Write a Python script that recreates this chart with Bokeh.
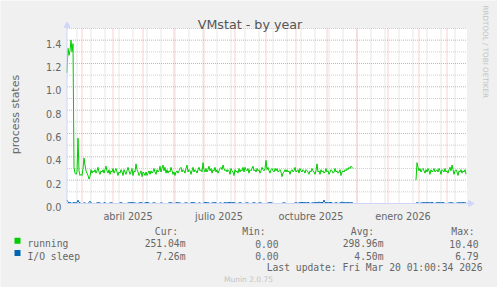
import numpy as np
import pandas as pd
from bokeh.plotting import figure
from bokeh.models import Range1d, ColumnDataSource
from bokeh.core.properties import value
from bokeh.embed import file_html
from bokeh.resources import INLINE

# ---------------- data ----------------
range_start = "2025-02-14"
range_end = "2026-03-21"

seg1_start = "2025-02-14"
seg2_start = "2026-01-29"

running_seg1 = [
    1.12, 1.33, 1.27, 1.31, 1.40, 1.30, 1.37, 0.31, 0.26, 0.25,
    0.27, 0.56, 0.28, 0.24, 0.25, 0.24, 0.30, 0.39, 0.33, 0.28,
    0.26, 0.24, 0.21, 0.23, 0.29, 0.26, 0.28, 0.27, 0.29, 0.26,
    0.28, 0.31, 0.27, 0.25, 0.28, 0.27, 0.29, 0.26, 0.29, 0.32,
    0.28, 0.26, 0.29, 0.25, 0.28, 0.27, 0.30, 0.26, 0.28, 0.30,
    0.27, 0.24, 0.27, 0.26, 0.29, 0.27, 0.24, 0.29, 0.27, 0.25,
    0.28, 0.31, 0.28, 0.25, 0.27, 0.30, 0.24, 0.28, 0.27, 0.34,
    0.29, 0.27, 0.24, 0.26, 0.28, 0.23, 0.27, 0.26, 0.24, 0.27,
    0.24, 0.26, 0.28, 0.25, 0.28, 0.26, 0.27, 0.30, 0.27, 0.25,
    0.29, 0.27, 0.28, 0.32, 0.27, 0.30, 0.33, 0.28, 0.31, 0.26,
    0.29, 0.26, 0.28, 0.27, 0.31, 0.28, 0.25, 0.27, 0.24, 0.27,
    0.28, 0.26, 0.28, 0.30, 0.31, 0.27, 0.29, 0.28, 0.26, 0.30,
    0.33, 0.27, 0.29, 0.28, 0.25, 0.28, 0.31, 0.27, 0.29, 0.28,
    0.26, 0.29, 0.31, 0.28, 0.29, 0.27, 0.35, 0.29, 0.27, 0.30,
    0.27, 0.29, 0.32, 0.28, 0.30, 0.26, 0.29, 0.28, 0.31, 0.27,
    0.29, 0.26, 0.28, 0.30, 0.31, 0.29, 0.33, 0.30, 0.28, 0.29,
    0.27, 0.29, 0.28, 0.25, 0.30, 0.28, 0.27, 0.24, 0.29, 0.27,
    0.28, 0.26, 0.30, 0.27, 0.29, 0.28, 0.31, 0.27, 0.31, 0.29,
    0.28, 0.30, 0.26, 0.29, 0.28, 0.30, 0.32, 0.28, 0.29, 0.27,
    0.30, 0.28, 0.29, 0.26, 0.28, 0.31, 0.29, 0.28, 0.30, 0.37,
    0.29, 0.31, 0.28, 0.26, 0.29, 0.30, 0.28, 0.27, 0.30, 0.28,
    0.30, 0.27, 0.28, 0.29, 0.27, 0.23, 0.26, 0.27, 0.29, 0.27,
    0.29, 0.27, 0.28, 0.25, 0.28, 0.29, 0.27, 0.28, 0.31, 0.27,
    0.28, 0.29, 0.26, 0.30, 0.28, 0.27, 0.29, 0.28, 0.26, 0.29,
    0.28, 0.27, 0.25, 0.28, 0.27, 0.30, 0.28, 0.27, 0.25, 0.28,
    0.34, 0.27, 0.28, 0.25, 0.29, 0.27, 0.28, 0.26, 0.27, 0.30,
    0.27, 0.28, 0.25, 0.27, 0.29, 0.28, 0.26, 0.27, 0.30, 0.27,
    0.28, 0.26, 0.27, 0.29, 0.24, 0.27, 0.28, 0.27, 0.29, 0.28,
    0.30, 0.29, 0.31, 0.30, 0.32, 0.31, 0.30,
]
running_seg2 = [
    0.20, 0.35, 0.31, 0.28, 0.30, 0.27, 0.29, 0.30, 0.28, 0.26, 0.29,
    0.27, 0.30, 0.28, 0.25, 0.29, 0.27, 0.28, 0.30, 0.27, 0.28,
    0.29, 0.27, 0.30, 0.28, 0.25, 0.29, 0.28, 0.27, 0.30, 0.27,
    0.28, 0.26, 0.29, 0.31, 0.28, 0.33, 0.29, 0.25, 0.28, 0.29,
    0.27, 0.24, 0.28, 0.27, 0.29, 0.26, 0.28, 0.27, 0.29, 0.25,
]
iosleep_seg1 = [
    0.030, 0.012, 0.006, 0.008, 0.005, 0.000, 0.006, 0.008, 0.006, 0.005,
    0.008, 0.028, 0.010, 0.006, 0.000, 0.000, 0.000, 0.006, 0.005, 0.000,
    0.000, 0.000, 0.008, 0.020, 0.006, 0.000, 0.000, 0.000, 0.000, 0.000,
    0.006, 0.007, 0.005, 0.006, 0.000, 0.000, 0.000, 0.006, 0.008, 0.000,
    0.000, 0.000, 0.000, 0.006, 0.005, 0.006, 0.000, 0.000, 0.000, 0.000,
    0.000, 0.000, 0.000, 0.006, 0.007, 0.005, 0.000, 0.000, 0.000, 0.000,
    0.000, 0.006, 0.005, 0.007, 0.006, 0.008, 0.006, 0.005, 0.006, 0.000,
    0.000, 0.000, 0.006, 0.005, 0.008, 0.006, 0.000, 0.000, 0.006, 0.007,
    0.009, 0.006, 0.005, 0.000, 0.000, 0.000, 0.006, 0.005, 0.006, 0.000,
    0.000, 0.000, 0.000, 0.000, 0.006, 0.005, 0.000, 0.000, 0.000, 0.000,
    0.000, 0.000, 0.006, 0.007, 0.005, 0.006, 0.000, 0.000, 0.000, 0.006,
    0.008, 0.006, 0.005, 0.006, 0.000, 0.000, 0.000, 0.000, 0.006, 0.005,
    0.006, 0.000, 0.000, 0.000, 0.006, 0.008, 0.006, 0.007, 0.005, 0.000,
    0.000, 0.000, 0.006, 0.005, 0.000, 0.000, 0.000, 0.006, 0.007, 0.009,
    0.006, 0.005, 0.006, 0.000, 0.000, 0.006, 0.005, 0.006, 0.008, 0.006,
    0.000, 0.000, 0.000, 0.006, 0.005, 0.000, 0.000, 0.006, 0.007, 0.006,
    0.005, 0.008, 0.006, 0.010, 0.006, 0.005, 0.009, 0.006, 0.005, 0.000,
    0.000, 0.000, 0.006, 0.005, 0.007, 0.000, 0.000, 0.000, 0.000, 0.006,
    0.005, 0.006, 0.000, 0.000, 0.000, 0.000, 0.006, 0.007, 0.005, 0.000,
    0.000, 0.000, 0.006, 0.005, 0.006, 0.000, 0.000, 0.000, 0.000, 0.000,
    0.000, 0.006, 0.005, 0.007, 0.006, 0.005, 0.000, 0.000, 0.000, 0.000,
    0.000, 0.000, 0.000, 0.000, 0.000, 0.000, 0.006, 0.005, 0.006, 0.000,
    0.000, 0.000, 0.000, 0.000, 0.000, 0.000, 0.000, 0.000, 0.006, 0.005,
    0.006, 0.000, 0.006, 0.008, 0.005, 0.010, 0.007, 0.006, 0.008, 0.006,
    0.005, 0.009, 0.006, 0.000, 0.000, 0.006, 0.005, 0.006, 0.008, 0.007,
    0.006, 0.009, 0.012, 0.008, 0.006, 0.010, 0.007, 0.030, 0.009, 0.006,
    0.008, 0.005, 0.006, 0.009, 0.007, 0.006, 0.000, 0.000, 0.006, 0.005,
    0.007, 0.000, 0.000, 0.006, 0.008, 0.012, 0.009, 0.006, 0.008, 0.005,
    0.006, 0.009, 0.006, 0.005, 0.007, 0.006, 0.005,
]
iosleep_seg2 = [
    0.006, 0.005, 0.007, 0.000, 0.000, 0.006, 0.005, 0.006, 0.008, 0.006,
    0.005, 0.009, 0.006, 0.007, 0.005, 0.006, 0.010, 0.006, 0.000, 0.000,
    0.006, 0.005, 0.008, 0.006, 0.007, 0.005, 0.006, 0.008, 0.006, 0.000,
    0.000, 0.000, 0.000, 0.006, 0.005, 0.007, 0.006, 0.005, 0.000, 0.000,
    0.000, 0.006, 0.005, 0.006, 0.007, 0.005, 0.006, 0.008, 0.006, 0.005,
    0.007,
]

month_label_dates = ["2025-04-01", "2025-07-01", "2025-10-01", "2026-01-01"]
month_label_texts = ["abril 2025", "julio 2025", "octubre 2025", "enero 2026"]

y_major_ticks = [0.0, 0.2, 0.4, 0.6, 0.8, 1.0, 1.2, 1.4]
y_major_labels = ["0.0", "0.2", "0.4", "0.6", "0.8", "1.0", "1.2", "1.4"]
y_minor_ticks = [0.1, 0.3, 0.5, 0.7, 0.9, 1.1, 1.3, 1.5]

series_names = ["running", "I/O sleep"]
series_colors = ["#00CC00", "#0066B3"]
stat_headers = ["Cur:", "Min:", "Avg:", "Max:"]
stat_cur = ["251.04m", "7.26m"]
stat_min = ["0.00", "0.00"]
stat_avg = ["298.96m", "4.50m"]
stat_max = ["10.40", "6.79"]

title_text = "VMstat - by year"
y_label_text = "process states"
last_update_text = "Last update: Fri Mar 20 01:00:34 2026"
watermark_text = "RRDTOOL / TOBI OETIKER"
munin_text = "Munin 2.0.75"

# ---------------- geometry (canvas pixels) ----------------
T0 = pd.Timestamp(range_start)


def day(ts):
    return int((pd.Timestamp(ts) - T0).days)


x_end = day(range_end)
Y_END = 1.5

W, H = 497, 287
PL, PR = 66.5, 466.5      # plot area left / right (canvas px)
PT, PB = 28.0, 203.0      # plot area top / bottom (canvas px)
ppx = (PR - PL) / x_end    # px per day
ppy = (PB - PT) / Y_END    # px per unit


def X(cx):
    return (cx - PL) / ppx


def Y(cy):
    return (PB - cy) / ppy


FONT = "DejaVu Sans"
MONO = "DejaVu Sans Mono"
TXT = "#666666"
AXIS = "#CFD6F8"
BG = "#F0F0F0"
GRID_MINOR = "#CFCFCF"
GRID_MAJOR = "#EFA3A3"

p = figure(width=W, height=H, x_range=Range1d(X(0), X(W)), y_range=Range1d(Y(H), Y(0)),
           output_backend="svg", toolbar_location=None, min_border=0,
           x_axis_location=None, y_axis_location=None, title_location=None,
           background_fill_color=BG, border_fill_color=BG, outline_line_color=None)
p.xgrid.visible = False
p.ygrid.visible = False

# plot canvas
p.quad(left=[0], right=[x_end], bottom=[0], top=[Y_END], fill_color="#FFFFFF",
       line_color=None)

# grid
major_x = [day(d) for d in pd.date_range("2025-03-01", "2026-03-01", freq="MS")]
minor_x = [day(d) for d in pd.date_range("2025-02-24", "2026-03-20", freq="14D")]
for xs, col in [(minor_x, GRID_MINOR), (major_x, GRID_MAJOR)]:
    p.segment(x0=xs, y0=[0] * len(xs), x1=xs, y1=[Y_END] * len(xs),
              line_color=col, line_width=1, line_dash="1 1")
for ys, col in [(y_minor_ticks, GRID_MINOR), (y_major_ticks[1:], GRID_MAJOR)]:
    p.segment(x0=[0] * len(ys), y0=ys, x1=[x_end] * len(ys), y1=ys,
              line_color=col, line_width=1, line_dash="1 1")

# data
segs = [(seg1_start, running_seg1, iosleep_seg1), (seg2_start, running_seg2, iosleep_seg2)]
for start, run_vals, io_vals in segs:
    xs = day(start) + np.arange(len(run_vals))
    p.line(xs, run_vals, line_color=series_colors[0], line_width=1)
    xs2 = day(start) + np.arange(len(io_vals))
    p.line(xs2, io_vals, line_color=series_colors[1], line_width=1)

# axes (lines + arrow heads)
p.segment(x0=[0, 0], y0=[0, 0], x1=[X(470), 0], y1=[0, Y(25)], line_color=AXIS,
          line_width=1)
p.scatter(x=[X(470)], y=[0], marker="triangle", size=6, angle=-np.pi / 2,
          fill_color=AXIS, line_color=AXIS)
p.scatter(x=[0], y=[Y(25)], marker="triangle", size=6,
          fill_color=AXIS, line_color=AXIS)

# tick labels
p.text(x=[X(61)] * len(y_major_ticks), y=[t - 3.4 / ppy for t in y_major_ticks],
       text=y_major_labels, text_font=value(FONT), text_font_size="9.7px",
       text_color=TXT, text_align="right", text_baseline="alphabetic")
label_x = [day(d) + 15 for d in month_label_dates]
p.text(x=label_x, y=[Y(215.8)] * len(label_x), text=month_label_texts,
       text_font=value(FONT), text_font_size="9.7px", text_color=TXT,
       text_align="center", text_baseline="alphabetic")

# titles
p.text(x=[X(249.5)], y=[Y(24)], text=[title_text], text_font=value(FONT),
       text_font_size="12.7px", text_color="#555555", text_align="center",
       text_baseline="alphabetic")
p.text(x=[X(15)], y=[Y(114)], text=[y_label_text], text_font=value(FONT),
       text_font_size="11px", text_color=TXT, text_align="center",
       text_baseline="alphabetic", angle=np.pi / 2)
p.text(x=[X(485)], y=[Y(5)], text=[watermark_text], text_font=value(FONT),
       text_font_size="7.2px", text_color="#C4C4C4", text_align="left",
       text_baseline="alphabetic", angle=-np.pi / 2)

# legend
row_base = [243.3, 255.6]
header_base = 230.7
col_right = [185, 278, 383, 478]
header_center = [166, 253.5, 362, 462.5]

p.text(x=[X(c) for c in header_center], y=[Y(header_base)] * 4, text=stat_headers,
       text_font=value(MONO), text_font_size="9.7px", text_color=TXT,
       text_align="center", text_baseline="alphabetic")

leg = ColumnDataSource(dict(
    left=[X(14)] * 2, right=[X(20)] * 2,
    top=[Y(b - 6) for b in row_base], bottom=[Y(b) for b in row_base],
    color=series_colors, name=series_names, base=[Y(b) for b in row_base],
))
p.quad(left="left", right="right", top="top", bottom="bottom", fill_color="color",
       line_color=None, source=leg)
p.text(x=X(27), y="base", text="name", source=leg, text_font=value(MONO),
       text_font_size="9.7px", text_color=TXT, text_align="left",
       text_baseline="alphabetic")
for cx, vals in zip(col_right, [stat_cur, stat_min, stat_avg, stat_max]):
    p.text(x=[X(cx)] * 2, y=[Y(b) for b in row_base], text=vals, text_font=value(MONO),
           text_font_size="9.7px", text_color=TXT, text_align="right",
           text_baseline="alphabetic")

p.text(x=[X(482)], y=[Y(266.7)], text=[last_update_text], text_font=value(MONO),
       text_font_size="9.7px", text_color=TXT, text_align="right",
       text_baseline="alphabetic")
p.text(x=[X(248)], y=[Y(278.5)], text=[munin_text], text_font=value(FONT),
       text_font_size="7.5px", text_color="#C4C4C4", text_align="center",
       text_baseline="alphabetic")

open("out.html", "w").write(file_html(p, INLINE))
